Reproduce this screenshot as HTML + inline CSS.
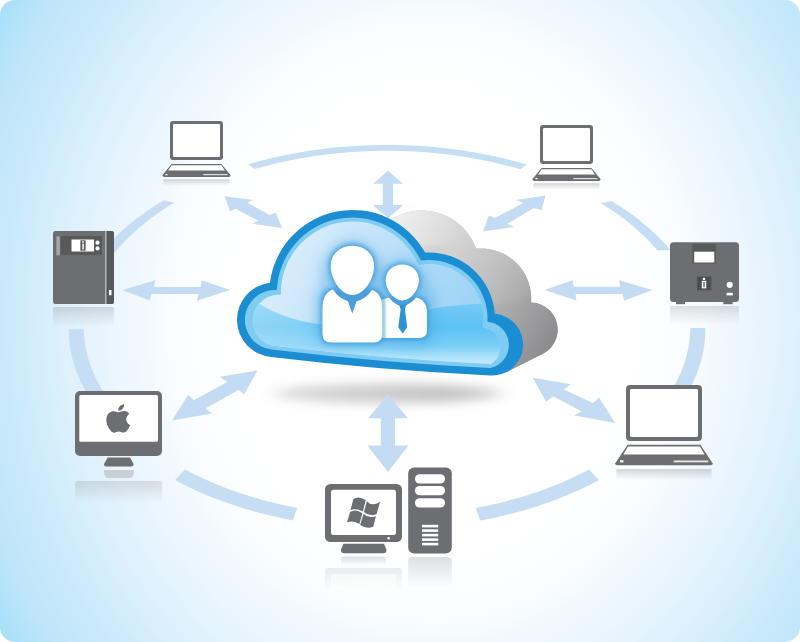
<!DOCTYPE html>
<html><head><meta charset="utf-8"><title>Cloud network diagram</title>
<style>html,body{margin:0;padding:0;background:#fff;font-family:"Liberation Sans",sans-serif}svg{display:block}</style></head>
<body>
<svg width="800" height="642" viewBox="0 0 800 642">
<defs>
<radialGradient id="bgr" gradientUnits="userSpaceOnUse" cx="430" cy="321" r="513" gradientTransform="translate(430 321) scale(1 1.149) translate(-430 -321)">
 <stop offset=".38" stop-color="#ffffff"/><stop offset=".50" stop-color="#fafdff"/><stop offset=".53" stop-color="#f5fbfe"/><stop offset=".575" stop-color="#f0f8fe"/>
 <stop offset=".653" stop-color="#e7f4fd"/><stop offset=".725" stop-color="#dcf0fc"/>
 <stop offset=".819" stop-color="#cbeafb"/><stop offset=".918" stop-color="#bee5fa"/><stop offset="1" stop-color="#a5dff9"/>
</radialGradient>
<linearGradient id="gfill" gradientUnits="userSpaceOnUse" x1="270" y1="235" x2="470" y2="345">
 <stop offset="0" stop-color="#dff0fc"/><stop offset=".35" stop-color="#c8e5fa"/><stop offset=".7" stop-color="#acd9f7"/><stop offset="1" stop-color="#9ad2f6"/>
</linearGradient>
<linearGradient id="gloss" gradientUnits="userSpaceOnUse" x1="0" y1="300" x2="0" y2="364">
 <stop offset="0" stop-color="#78ccf6"/><stop offset=".42" stop-color="#5cc2f4"/><stop offset=".72" stop-color="#7acff6"/><stop offset=".9" stop-color="#b0e3fa"/><stop offset="1" stop-color="#c2eafc"/>
</linearGradient>
<linearGradient id="glossl" gradientUnits="userSpaceOnUse" x1="245" y1="0" x2="430" y2="0">
 <stop offset="0" stop-color="#fff" stop-opacity=".32"/><stop offset="1" stop-color="#fff" stop-opacity="0"/></linearGradient>
<linearGradient id="gg2" gradientUnits="userSpaceOnUse" x1="392" y1="212" x2="480" y2="262">
 <stop offset="0" stop-color="#f1f1f1"/><stop offset=".5" stop-color="#dedede"/><stop offset="1" stop-color="#c6c6c6"/></linearGradient>
<linearGradient id="gg3" gradientUnits="userSpaceOnUse" x1="455" y1="250" x2="538" y2="305">
 <stop offset="0" stop-color="#d2d2d2"/><stop offset=".5" stop-color="#bdbdbd"/><stop offset="1" stop-color="#a2a2a3"/></linearGradient>
<linearGradient id="gg4" gradientUnits="userSpaceOnUse" x1="500" y1="312" x2="560" y2="350">
 <stop offset="0" stop-color="#acacad"/><stop offset=".5" stop-color="#9a9a9c"/><stop offset="1" stop-color="#848587"/></linearGradient>
<linearGradient id="shad" x1="0" y1="0" x2="1" y2="0">
 <stop offset="0" stop-color="#c2c2c2" stop-opacity=".8"/><stop offset=".5" stop-color="#bbbbbb" stop-opacity=".95"/><stop offset=".75" stop-color="#b2b2b2" stop-opacity="1"/><stop offset="1" stop-color="#bcbcbc" stop-opacity=".9"/>
</linearGradient>
<filter id="blur1" x="-50%" y="-10%" width="200%" height="120%"><feGaussianBlur stdDeviation="1.2"/></filter>
<filter id="blurg" x="-20%" y="-20%" width="140%" height="140%"><feGaussianBlur stdDeviation="2.4"/></filter>
<filter id="blur8" x="-30%" y="-30%" width="160%" height="160%"><feGaussianBlur stdDeviation="7"/></filter>
<filter id="blur3" x="-20%" y="-20%" width="140%" height="140%"><feGaussianBlur stdDeviation="2.2"/></filter>
<filter id="blur6" x="-20%" y="-150%" width="140%" height="400%"><feGaussianBlur stdDeviation="9 5.500"/></filter>
</defs>
<rect width="800" height="642" fill="#fff"/>
<rect width="800" height="642" rx="15" fill="url(#bgr)"/>
<g fill="#c6def4">
<path d="M248.23 164.25 L254.75 162.39 L261.34 160.63 L267.99 158.95 L274.71 157.37 L281.48 155.88 L288.31 154.48 L295.18 153.18 L302.11 151.97 L309.08 150.85 L316.08 149.84 L323.13 148.91 L330.21 148.09 L337.31 147.36 L344.45 146.73 L351.6 146.19 L358.77 145.76 L365.96 145.42 L373.16 145.18 L380.36 145.04 L387.57 145 L394.78 145.06 L401.98 145.21 L409.18 145.47 L416.36 145.82 L423.53 146.27 L430.68 146.82 L437.81 147.47 L444.91 148.21 L451.99 149.05 L459.03 149.99 L466.03 151.02 L472.99 152.15 L479.91 153.38 L486.78 154.7 L493.6 156.11 L500.36 157.61 L507.06 159.21 L513.71 160.9 L520.29 162.68 L526.8 164.55 L520.2 169.35 L514 167.58 L507.73 165.89 L501.4 164.29 L495.01 162.77 L488.57 161.34 L482.07 160 L475.52 158.75 L468.93 157.59 L462.3 156.52 L455.63 155.54 L448.92 154.65 L442.18 153.85 L435.41 153.14 L428.62 152.53 L421.81 152.01 L414.98 151.58 L408.13 151.24 L401.27 151 L394.41 150.85 L387.54 150.8 L380.67 150.84 L373.81 150.97 L366.95 151.2 L360.1 151.52 L353.27 151.93 L346.45 152.44 L339.66 153.04 L332.89 153.73 L326.14 154.51 L319.43 155.39 L312.75 156.35 L306.11 157.41 L299.51 158.56 L292.96 159.8 L286.46 161.12 L280 162.54 L273.6 164.04 L267.26 165.63 L260.99 167.3 L254.77 169.06Z"/>
<path d="M163.73 200.28 L161.48 201.64 L159.24 203.01 L157.03 204.39 L154.84 205.79 L152.67 207.2 L150.53 208.63 L148.41 210.07 L146.31 211.52 L144.24 212.98 L142.2 214.45 L140.18 215.94 L138.18 217.44 L136.21 218.95 L134.26 220.48 L132.34 222.01 L130.44 223.56 L128.57 225.12 L126.73 226.69 L124.91 228.27 L123.12 229.86 L121.35 231.46 L119.61 233.07 L117.9 234.7 L116.22 236.33 L114.56 237.97 L112.93 239.63 L111.33 241.29 L109.75 242.96 L108.2 244.65 L106.69 246.34 L105.19 248.04 L103.73 249.75 L102.3 251.47 L100.89 253.19 L99.52 254.93 L98.17 256.67 L96.85 258.43 L95.56 260.18 L94.3 261.95 L93.07 263.73 L106.93 263.16 L108.11 261.47 L109.31 259.79 L110.54 258.11 L111.79 256.44 L113.08 254.78 L114.39 253.12 L115.73 251.48 L117.09 249.84 L118.49 248.21 L119.91 246.59 L121.36 244.98 L122.83 243.37 L124.33 241.78 L125.86 240.19 L127.41 238.62 L128.99 237.05 L130.59 235.49 L132.23 233.94 L133.88 232.41 L135.56 230.88 L137.27 229.36 L139 227.86 L140.76 226.36 L142.54 224.88 L144.35 223.4 L146.18 221.94 L148.04 220.49 L149.91 219.05 L151.82 217.62 L153.74 216.2 L155.69 214.79 L157.67 213.4 L159.66 212.02 L161.68 210.65 L163.72 209.29 L165.79 207.94 L167.88 206.61 L169.98 205.29 L172.11 203.98 L174.27 202.69Z"/>
<path d="M611.29 200.89 L613.08 201.98 L614.86 203.07 L616.62 204.17 L618.37 205.28 L620.1 206.4 L621.82 207.53 L623.52 208.66 L625.21 209.81 L626.88 210.96 L628.54 212.12 L630.18 213.29 L631.81 214.46 L633.42 215.64 L635.02 216.83 L636.6 218.03 L638.16 219.24 L639.71 220.45 L641.24 221.67 L642.76 222.9 L644.26 224.14 L645.74 225.38 L647.21 226.63 L648.66 227.89 L650.09 229.15 L651.51 230.42 L652.91 231.7 L654.29 232.98 L655.66 234.27 L657.01 235.57 L658.34 236.88 L659.65 238.19 L660.95 239.5 L662.23 240.83 L663.49 242.15 L664.74 243.49 L665.96 244.83 L667.17 246.18 L668.36 247.53 L669.54 248.89 L670.69 250.25 L657.31 250.32 L656.21 249.02 L655.09 247.72 L653.96 246.43 L652.8 245.15 L651.63 243.87 L650.45 242.6 L649.25 241.33 L648.03 240.07 L646.79 238.82 L645.54 237.57 L644.27 236.33 L642.98 235.09 L641.68 233.86 L640.37 232.64 L639.03 231.42 L637.68 230.21 L636.32 229 L634.93 227.8 L633.54 226.61 L632.12 225.43 L630.69 224.25 L629.25 223.08 L627.79 221.92 L626.32 220.76 L624.83 219.61 L623.32 218.47 L621.8 217.33 L620.26 216.2 L618.71 215.08 L617.15 213.97 L615.57 212.87 L613.98 211.77 L612.37 210.68 L610.74 209.6 L609.11 208.52 L607.45 207.46 L605.79 206.4 L604.11 205.35 L602.42 204.31 L600.71 203.27Z"/>
<path d="M175 480.11 L177.55 481.47 L180.13 482.82 L182.73 484.15 L185.36 485.47 L188.01 486.76 L190.68 488.04 L193.37 489.3 L196.09 490.55 L198.83 491.78 L201.58 492.99 L204.37 494.18 L207.17 495.35 L209.99 496.51 L212.83 497.64 L215.7 498.76 L218.58 499.86 L221.48 500.94 L224.4 502 L227.34 503.05 L230.3 504.07 L233.28 505.08 L236.27 506.06 L239.28 507.03 L242.31 507.97 L245.35 508.9 L248.41 509.81 L251.49 510.7 L254.58 511.56 L257.69 512.41 L260.81 513.24 L263.95 514.04 L267.1 514.83 L270.27 515.6 L273.45 516.34 L276.64 517.07 L279.84 517.77 L283.06 518.45 L286.29 519.12 L289.53 519.76 L292.78 520.38 L297.22 507.78 L294.12 507.19 L291.04 506.58 L287.96 505.95 L284.9 505.3 L281.84 504.63 L278.8 503.93 L275.77 503.22 L272.76 502.49 L269.76 501.74 L266.77 500.98 L263.79 500.19 L260.83 499.38 L257.88 498.55 L254.95 497.71 L252.03 496.84 L249.13 495.96 L246.25 495.06 L243.38 494.14 L240.53 493.2 L237.69 492.24 L234.87 491.26 L232.07 490.27 L229.29 489.26 L226.52 488.23 L223.78 487.18 L221.05 486.11 L218.34 485.03 L215.65 483.93 L212.98 482.81 L210.33 481.67 L207.7 480.52 L205.09 479.35 L202.5 478.16 L199.94 476.96 L197.39 475.74 L194.87 474.51 L192.37 473.25 L189.89 471.98 L187.43 470.7 L185 469.4Z"/>
<path d="M480.2 520.57 L483.48 519.95 L486.75 519.31 L490 518.65 L493.25 517.97 L496.48 517.26 L499.7 516.54 L502.91 515.79 L506.1 515.02 L509.28 514.24 L512.45 513.43 L515.6 512.6 L518.73 511.75 L521.85 510.88 L524.96 509.99 L528.05 509.08 L531.12 508.15 L534.17 507.2 L537.21 506.23 L540.23 505.24 L543.23 504.23 L546.22 503.2 L549.18 502.15 L552.13 501.08 L555.06 500 L557.97 498.89 L560.85 497.77 L563.72 496.62 L566.57 495.46 L569.39 494.28 L572.2 493.08 L574.98 491.86 L577.74 490.63 L580.48 489.37 L583.2 488.1 L585.89 486.81 L588.56 485.51 L591.21 484.18 L593.83 482.84 L596.43 481.48 L599 480.11 L589 469.4 L586.55 470.71 L584.07 472.01 L581.57 473.28 L579.05 474.54 L576.51 475.79 L573.94 477.02 L571.35 478.23 L568.74 479.43 L566.11 480.6 L563.46 481.76 L560.79 482.91 L558.1 484.03 L555.38 485.14 L552.65 486.23 L549.9 487.3 L547.13 488.36 L544.34 489.39 L541.53 490.41 L538.71 491.41 L535.86 492.39 L533 493.35 L530.13 494.3 L527.23 495.22 L524.32 496.13 L521.39 497.01 L518.45 497.88 L515.49 498.73 L512.52 499.56 L509.53 500.37 L506.53 501.16 L503.51 501.93 L500.49 502.68 L497.44 503.41 L494.39 504.12 L491.32 504.81 L488.24 505.48 L485.15 506.13 L482.04 506.76 L478.93 507.37 L475.8 507.96Z"/>
<path d="M68.75 329.3 L68.76 331.66 L68.82 334.01 L68.93 336.37 L69.09 338.73 L69.29 341.08 L69.55 343.44 L69.85 345.8 L70.21 348.15 L70.61 350.51 L71.06 352.87 L71.57 355.22 L72.12 357.58 L72.73 359.94 L73.38 362.29 L74.09 364.65 L74.84 367.01 L75.65 369.36 L76.52 371.72 L77.43 374.08 L78.4 376.43 L79.42 378.79 L80.5 381.15 L81.63 383.5 L82.81 385.86 L84.06 388.22 L85.36 390.57 L86.71 392.93 L88.13 395.29 L89.6 397.64 L91.14 400 L108.88 400 L107.21 397.64 L105.61 395.29 L104.07 392.93 L102.59 390.57 L101.17 388.22 L99.82 385.86 L98.52 383.5 L97.28 381.15 L96.1 378.79 L94.98 376.43 L93.91 374.08 L92.9 371.72 L91.94 369.36 L91.04 367.01 L90.19 364.65 L89.39 362.29 L88.65 359.94 L87.96 357.58 L87.33 355.22 L86.75 352.87 L86.21 350.51 L85.73 348.15 L85.3 345.8 L84.93 343.44 L84.6 341.08 L84.32 338.73 L84.1 336.37 L83.92 334.01 L83.8 331.66 L83.72 329.3Z"/>
<path d="M705.23 328 L705.25 330.13 L705.23 332.27 L705.16 334.4 L705.06 336.53 L704.92 338.67 L704.74 340.8 L704.51 342.93 L704.25 345.07 L703.94 347.2 L703.6 349.33 L703.21 351.47 L702.79 353.6 L702.32 355.73 L701.81 357.87 L701.26 360 L700.67 362.13 L700.03 364.27 L699.36 366.4 L698.64 368.53 L697.87 370.67 L697.07 372.8 L696.22 374.93 L695.33 377.07 L694.39 379.2 L693.41 381.33 L692.39 383.47 L691.32 385.6 L690.2 387.73 L689.04 389.87 L687.83 392 L670.52 392 L671.84 389.87 L673.11 387.73 L674.33 385.6 L675.5 383.47 L676.62 381.33 L677.7 379.2 L678.73 377.07 L679.71 374.93 L680.65 372.8 L681.54 370.67 L682.39 368.53 L683.19 366.4 L683.94 364.27 L684.66 362.13 L685.33 360 L685.95 357.87 L686.54 355.73 L687.08 353.6 L687.58 351.47 L688.03 349.33 L688.45 347.2 L688.82 345.07 L689.15 342.93 L689.44 340.8 L689.68 338.67 L689.89 336.53 L690.05 334.4 L690.17 332.27 L690.26 330.13 L690.3 328Z"/>
</g>
<ellipse cx="388" cy="393.500" rx="114" ry="10" fill="url(#shad)" filter="url(#blur6)" opacity=".78"/>
<g fill="#c3dcf3">
<polygon points="388,394.8 408,418.2 395,418.2 395,445.4 408.5,445.4 388,471.9 367.3,445.4 380.8,445.4 380.8,418.2 368,418.2" fill="#c3dcf3" />
<polygon points="122.2,289.9 155.5,280.2 153.5,287 200.7,287 201.8,280.2 229.9,289.9 196.9,300.8 198.6,294 151.4,294 149.8,300.5" fill="#c3dcf3" />
<polygon points="544.4,289.9 572.7,280.2 573.7,286.7 620.3,286.7 619,280.2 652.3,289.9 624,300.8 622.7,294 575.6,294 576.4,300.5" fill="#c3dcf3" />
<polygon points="224.75,196.25 253,200 247.5,202.75 270,215.25 275.6,212.5 282.25,228.1 252.5,223.75 258.1,220.6 235.6,208.75 230,211.25" fill="#c3dcf3" />
<polygon points="545.6,195.6 541.5,210.25 533.75,208.1 507.5,223.75 513.75,226.9 482.9,231.6 488.75,215.6 495,218.1 523.1,203.1 516.25,200" fill="#c3dcf3" />
<polygon points="257.6,370.4 244.2,394.3 238.4,389.9 205.4,408.4 212,413.5 172.1,420.4 188.2,394.7 193.7,400.2 227.4,381.9 219.8,376.8" fill="#c3dcf3" />
<polygon points="532.8,377.7 570.9,384.2 563.7,389.4 592.9,403.1 599.1,397.6 615.2,423.1 574.3,415.5 581.9,411.4 553,396.3 546.1,401.8" fill="#c3dcf3" />
</g>
<clipPath id="gsil">
<polygon points="352.5,293.2 422,268 459.17,311.87 406.28,356.68" />
<circle cx="422" cy="268" r="57.5"/>
<polygon points="469.11,370.91 511.51,338.47 477.1,248.55 423.87,252.7" />
<circle cx="481" cy="298.6" r="50.2"/>
<polygon points="506.18,372.21 542.77,353.81 523.09,303.56 483.74,314.91" />
<circle cx="530.6" cy="329.6" r="27.1"/>
</clipPath>
<g clip-path="url(#gsil)">
<rect x="380" y="190" width="200" height="200" fill="#b4b4b5"/>
<g filter="url(#blurg)">
<polygon points="352.5,293.2 422,268 459.17,311.87 406.28,356.68" fill="url(#gg2)"  stroke="url(#gg2)" stroke-width="12" stroke-linejoin="round"/>
<circle cx="422" cy="268" r="57.5" fill="url(#gg2)" stroke="url(#gg2)" stroke-width="12"/>
<polygon points="469.11,370.91 511.51,338.47 477.1,248.55 423.87,252.7" fill="url(#gg3)"  stroke="url(#gg3)" stroke-width="12" stroke-linejoin="round"/>
<circle cx="481" cy="298.6" r="50.2" fill="url(#gg3)" stroke="url(#gg3)" stroke-width="12"/>
<polygon points="506.18,372.21 542.77,353.81 523.09,303.56 483.74,314.91" fill="url(#gg4)"  stroke="url(#gg4)" stroke-width="12" stroke-linejoin="round"/>
<circle cx="530.6" cy="329.6" r="27.1" fill="url(#gg4)" stroke="url(#gg4)" stroke-width="12"/>
</g></g>
<polygon points="388,170.8 403,183.7 393,183.7 393,205 403.3,205 388,218 372.7,205 382.8,205 382.8,183.7 373,183.7" fill="#c3dcf3" />
<path d="M269.96 282.75 A83.2 83.2 0 0 1 425.13 252.61 A66 66 0 0 1 494.83 313.8 A30.9 30.9 0 0 1 489.7 375.39 Q380.1 370.17 271.17 356.97 A37.3 37.3 0 0 1 269.96 282.75 Z" fill="#1b8ed3"/>
<path d="M276.86 290.11 A75.7 75.7 0 0 1 420.81 260.58 A58.5 58.5 0 0 1 487.41 321.72 A23.4 23.4 0 0 1 490.33 367.92 Q380.73 362.69 271.8 349.49 A29.8 29.8 0 0 1 276.86 290.11 Z" fill="#7fccf3"/>
<clipPath id="cin"><path d="M280.82 294.84 A71.7 71.7 0 0 1 418.44 265.03 A54.5 54.5 0 0 1 482.71 327.74 A19.4 19.4 0 0 1 490.67 363.93 Q381.07 358.71 272.13 345.51 A25.8 25.8 0 0 1 280.82 294.84 Z"/></clipPath>
<path d="M280.82 294.84 A71.7 71.7 0 0 1 418.44 265.03 A54.5 54.5 0 0 1 482.71 327.74 A19.4 19.4 0 0 1 490.67 363.93 Q381.07 358.71 272.13 345.51 A25.8 25.8 0 0 1 280.82 294.84 Z" fill="url(#gfill)"/>
<g clip-path="url(#cin)">
<path d="M246 294 C266 312 298 323.500 335 325.500 C370 327 400 318 426 310 C445 305.500 465 304.800 490 303 L535 299 L540 390 L230 390 Z" fill="url(#gloss)"/>
<path d="M246 294 C266 312 298 323.500 335 325.500 C370 327 400 318 426 310 C445 305.500 465 304.800 490 303 L535 299 L540 390 L230 390 Z" fill="url(#glossl)"/>
</g>
<g>
<defs>
<path id="hd1" d="M352.400 245.700 C364.500 245.700 374.100 254 374.100 266 C374.100 279 364 295 352.400 295 C340.800 295 330.700 279 330.700 266 C330.700 254 340.300 245.700 352.400 245.700Z"/>
<path id="bd1" d="M333 289.600 Q338.500 298.500 348 301.300 L352.300 313.800 L356.600 301.300 Q366.500 298.500 372 290 Q382.200 293 382.200 309 L382.200 334 Q382.200 342.500 373.700 342.500 L331 342.500 Q322.500 342.500 322.500 334 L322.500 309 Q322.500 293 333 289.600Z"/>
<path id="hd2" d="M402.300 264.600 C411.500 264.600 418.900 271 418.900 280 C418.900 289.500 411 300.400 402.300 300.400 C393.600 300.400 385.700 289.500 385.700 280 C385.700 271 393.100 264.600 402.300 264.600Z"/>
<path id="bd2" d="M389 297.500 Q394 304.800 402.300 306.200 Q410.500 304.800 416 297.500 Q427 300 427 313 L427 330 Q427 338 419 338 L380 338 L380 300 Z"/>
</defs>
<g filter="url(#blur8)" fill="#4aa5e2" opacity=".5"><ellipse cx="352" cy="275" rx="30" ry="34"/><ellipse cx="403" cy="286" rx="24" ry="26"/><rect x="316" y="286" width="118" height="60" rx="12"/></g>
<g filter="url(#blur3)" fill="#3f9ddb" opacity=".8">
 <use href="#hd1" transform="translate(352.400 270) scale(1.100) translate(-352.400 -270)"/>
 <use href="#hd2" transform="translate(402.300 282) scale(1.120) translate(-402.300 -282)"/>
 <path d="M320.500 303 Q320.500 290 333 287.600 h39 Q384.200 290 384.200 304 v30 q0 10.500 -10.500 10.500 h-42.700 q-10.500 0 -10.500 -10.500z"/>
 <path d="M384 299 q4 -3 8 -3.500 h24 q13 2 13 13.500 v21 q0 10 -10 10 h-35z"/>
</g>
<!-- collar shadows -->
<ellipse cx="352.400" cy="296" rx="17" ry="12" fill="#4a9fda" opacity=".85"/>
<ellipse cx="402.300" cy="301" rx="12.500" ry="7.500" fill="#4a9fda" opacity=".85"/>
<!-- person 2 -->
<use href="#bd2" fill="#fff"/>
<path d="M399.200 304.500 L406.300 304.500 L404.900 309.600 L407.200 327.200 L402.700 333.400 L398.300 327.200 L400.600 309.600Z" fill="#2f94d2"/>
<use href="#hd2" fill="#fff"/>
<!-- separation shadow between the two bodies -->
<path d="M380 296 h5.500 v44 h-5.500z" fill="#4a9fda" opacity=".55" filter="url(#blur1)"/>
<!-- person 1 -->
<use href="#bd1" fill="#fff"/>
<use href="#hd1" fill="#fff"/>
</g>
<rect x="170" y="121" width="53" height="39" rx="3" fill="#6d6e71"/>
<rect x="173" y="124" width="47" height="33" rx="1.05" fill="#fff"/>
<path d="M171.6 164 L221.4 164 L230.5 175 Q230.8 177 228.5 177 L164.5 177 Q162.2 177 162.5 175 Z" fill="#6d6e71"/>
<polygon points="171.56,165.35 221.44,165.35 224.8,170.5 168.2,170.5" fill="#fff" />
<rect x="165.43" y="173.88" width="2.08" height="1.43" fill="#fff"/>
<rect x="203.3" y="174.07" width="24.14" height="1.1" fill="#e6e7e8"/>
<defs><linearGradient id="rl1" x1="0" y1="0" x2="0" y2="1"><stop offset="0" stop-color="#8a8b8e" stop-opacity=".36"/><stop offset="1" stop-color="#9a9b9e" stop-opacity="0"/></linearGradient></defs>
<rect x="163.5" y="179.28" width="66" height="6.83" rx="1" fill="url(#rl1)"/>
<rect x="540" y="125" width="53" height="39" rx="3" fill="#6d6e71"/>
<rect x="543" y="128" width="47" height="33" rx="1.05" fill="#fff"/>
<path d="M541.6 168 L591.4 168 L600.5 179 Q600.8 181 598.5 181 L534.5 181 Q532.2 181 532.5 179 Z" fill="#6d6e71"/>
<polygon points="541.56,169.35 591.44,169.35 594.8,174.5 538.2,174.5" fill="#fff" />
<rect x="535.42" y="177.88" width="2.08" height="1.43" fill="#fff"/>
<rect x="573.3" y="178.07" width="24.14" height="1.1" fill="#e6e7e8"/>
<defs><linearGradient id="rl2" x1="0" y1="0" x2="0" y2="1"><stop offset="0" stop-color="#8a8b8e" stop-opacity=".36"/><stop offset="1" stop-color="#9a9b9e" stop-opacity="0"/></linearGradient></defs>
<rect x="533.5" y="183.28" width="66" height="6.83" rx="1" fill="url(#rl2)"/>
<rect x="626" y="385" width="76" height="56" rx="4" fill="#6d6e71"/>
<rect x="630" y="389" width="68" height="48" rx="1.4" fill="#fff"/>
<path d="M627.6 444.7 L700.4 444.7 L712.6 463.3 Q712.9 465.3 710.6 465.3 L617.3 465.3 Q615 465.3 615.3 463.3 Z" fill="#6d6e71"/>
<polygon points="628.01,446.5 699.98,446.5 704.58,454.6 623.37,454.6" fill="#fff" />
<rect x="620.11" y="460.16" width="3.42" height="2.35" fill="#fff"/>
<rect x="673.68" y="460.49" width="34.54" height="1.82" fill="#e6e7e8"/>
<defs><linearGradient id="rl3" x1="0" y1="0" x2="0" y2="1"><stop offset="0" stop-color="#8a8b8e" stop-opacity=".36"/><stop offset="1" stop-color="#9a9b9e" stop-opacity="0"/></linearGradient></defs>
<rect x="616.3" y="469.05" width="95.3" height="11.23" rx="1" fill="url(#rl3)"/>
<g>
<defs><linearGradient id="rn1" x1="0" y1="0" x2="0" y2="1"><stop offset="0" stop-color="#8a8b8e" stop-opacity=".3"/><stop offset="1" stop-color="#9a9b9e" stop-opacity="0"/></linearGradient></defs>
<rect x="53" y="307" width="61" height="20" rx="1.500" fill="url(#rn1)"/>
<rect x="53" y="231" width="61" height="73" rx="2.500" fill="#6d6e71"/>
<path d="M106.300 231 h5.200 q2.500 0 2.500 2.500 v68 q0 2.500 -2.500 2.500 h-5.200z" fill="#58595b"/>
<rect x="105.200" y="231" width="1.200" height="73" fill="#c4c5c7"/>
<rect x="56.400" y="236.400" width="3.400" height="18.800" fill="#a7a9ac"/>
<rect x="60.700" y="236" width="41.300" height="19.200" fill="#58595b"/>
<rect x="71.500" y="239.500" width="22.500" height="12" fill="#fff"/>
<rect x="80.400" y="240.300" width="5.200" height="10.400" fill="#58595b"/>
<rect x="82.300" y="243.600" width="1.500" height="6" fill="#fff"/><circle cx="83" cy="241.900" r=".9" fill="#fff"/>
<circle cx="97.500" cy="242.700" r="2.100" fill="#fff"/><circle cx="97.500" cy="248.400" r="2.100" fill="#fff"/>
<rect x="109" y="290" width="2.500" height="5.200" fill="#fff"/>
</g>
<g>
<defs><linearGradient id="rn2" x1="0" y1="0" x2="0" y2="1"><stop offset="0" stop-color="#8a8b8e" stop-opacity=".27"/><stop offset="1" stop-color="#9a9b9e" stop-opacity="0"/></linearGradient></defs>
<rect x="670" y="306" width="69" height="19" rx="1.500" fill="url(#rn2)"/>
<rect x="676" y="300" width="9" height="4.200" fill="#6d6e71"/><rect x="723.300" y="300" width="9.300" height="4.200" fill="#6d6e71"/>
<rect x="670" y="242.300" width="69" height="59.700" rx="3.500" fill="#6d6e71"/>
<rect x="692.300" y="244" width="23.700" height="19.700" fill="#58595b"/>
<rect x="694.200" y="251.700" width="20.100" height="10.800" fill="#fff"/>
<rect x="697" y="276.500" width="14.300" height="13.800" fill="#4d4e50"/>
<rect x="701.800" y="280.800" width="4.400" height="7.600" fill="#fff"/><rect x="703.400" y="282" width="1.200" height="5.200" fill="#4d4e50"/><rect x="702.900" y="277.800" width="2.200" height="2.200" fill="#fff"/>
<circle cx="729.700" cy="284.800" r="3.100" fill="#fff"/>
<rect x="726.600" y="292.800" width="6.200" height="2.600" fill="#fff"/>
</g>
<g>
<defs><linearGradient id="ri1" x1="0" y1="0" x2="0" y2="1"><stop offset="0" stop-color="#9a9b9e" stop-opacity=".30"/><stop offset="1" stop-color="#9a9b9e" stop-opacity="0"/></linearGradient></defs>
<path d="M104 478 q0 -8 4 -8 h22 q4 0 4 8z" fill="#9a9b9e" opacity=".4" transform="translate(0 948) scale(1 -1)"/>
<rect x="75" y="481" width="87" height="22" rx="3" fill="url(#ri1)"/>
<rect x="75" y="391" width="87" height="65" rx="5" fill="#6d6e71"/>
<rect x="79.300" y="395" width="78.700" height="46.700" rx="1.500" fill="#fff"/>
<path d="M107.700 457.600 h22.300 l3.300 5.800 q1 3 -2.500 3 h-24 q-3.500 0 -2.500 -3z" fill="#6d6e71"/>
<g transform="translate(103.600 404.200) scale(1.220 1.185)" fill="#6d6e71">
<path d="M12.152 6.896c-.948 0-2.415-1.078-3.960-1.040-2.040.027-3.910 1.183-4.961 3.014-2.117 3.675-.546 9.103 1.519 12.090 1.013 1.454 2.208 3.090 3.792 3.039 1.520-.065 2.090-.987 3.935-.987 1.831 0 2.350.987 3.960.948 1.637-.026 2.676-1.480 3.676-2.948 1.156-1.688 1.636-3.325 1.662-3.415-.039-.013-3.182-1.221-3.220-4.857-.026-3.040 2.480-4.494 2.597-4.559-1.429-2.090-3.623-2.324-4.390-2.376-2-.156-3.675 1.090-4.610 1.090zM15.530 3.830c.843-1.012 1.400-2.427 1.245-3.830-1.207.052-2.662.805-3.532 1.818-.780.896-1.454 2.338-1.273 3.714 1.338.104 2.715-.688 3.559-1.701"/>
</g>
</g>
<g>
<defs><linearGradient id="rw1" x1="0" y1="0" x2="0" y2="1"><stop offset="0" stop-color="#9a9b9e" stop-opacity=".32"/><stop offset="1" stop-color="#9a9b9e" stop-opacity="0"/></linearGradient></defs>
<rect x="341" y="556.500" width="45" height="9" rx="3" fill="url(#rw1)"/>
<rect x="325" y="568" width="77" height="22" rx="3" fill="url(#rw1)" opacity=".6"/><rect x="331" y="574.500" width="65" height="16" fill="#fff" opacity=".55"/>
<rect x="408.200" y="557" width="43.600" height="30" rx="4" fill="url(#rw1)"/>
<rect x="325" y="484" width="77" height="58" rx="5.500" fill="#6d6e71"/>
<rect x="331" y="489.800" width="65" height="45.200" rx="2.500" fill="#fff"/>
<circle cx="388.600" cy="538.300" r="1.300" fill="#fff"/>
<path d="M343.500 543.700 h40.500 l2.300 5.500 q.8 4 -3 4 h-39 q-4 0 -3.200 -4z" fill="#6d6e71"/>
<rect x="408.200" y="467.600" width="43.600" height="86" rx="6" fill="#6d6e71"/>
<rect x="415" y="474.200" width="30" height="9.300" rx="4.600" fill="#fff"/>
<rect x="415" y="486" width="30" height="9.300" rx="4.600" fill="#fff"/>
<rect x="415" y="498.200" width="30" height="9.300" rx="4.600" fill="#fff"/>
<g fill="#fff"><rect x="422" y="524.800" width="16.200" height="2.600"/><rect x="422" y="529.300" width="16.200" height="2.600"/><rect x="422" y="533.800" width="16.200" height="2.600"/><rect x="422" y="538.300" width="16.200" height="2.600"/><rect x="422" y="542.800" width="16.200" height="2.600"/></g>
<g fill="#6d6e71">
<path d="M353.400 499 Q358.400 495.500 365.750 500.100 L362.900 511.400 Q355.350 507.600 350.400 510.250Z"/>
<path d="M366.900 501.250 Q371.550 506.900 380 502 L376.600 514 Q370.250 517.150 363.900 512.100Z"/>
<path d="M350 512.100 Q355.800 508.500 362.400 513.250 L359.400 524.100 Q352.800 519.650 347 522.600Z"/>
<path d="M363.500 514 Q369.300 519.050 375.900 515.900 L373.250 526.750 Q366.300 529.200 360.100 524.900Z"/>
</g>
</g>
</svg>
</body></html>
